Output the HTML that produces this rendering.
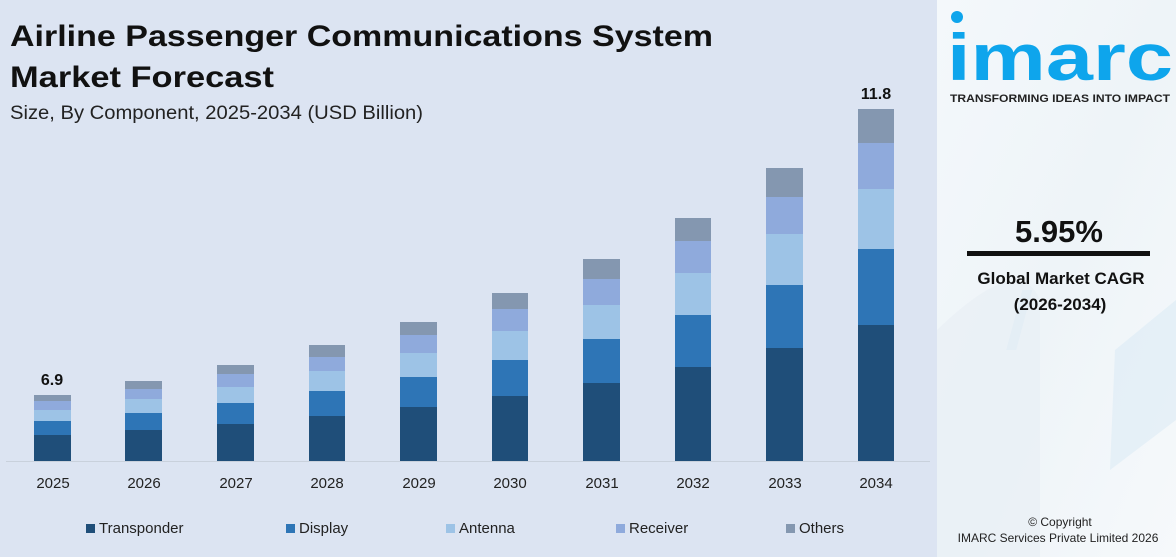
<!DOCTYPE html>
<html><head><meta charset="utf-8"><style>
html,body{margin:0;padding:0;width:1176px;height:557px;overflow:hidden;background:#dce4f2}
svg{display:block}
text{font-family:"Liberation Sans",sans-serif}
</style></head><body>
<svg width="1176" height="557" viewBox="0 0 1176 557" xmlns="http://www.w3.org/2000/svg">
<defs>
<linearGradient id="rg" x1="0" y1="0" x2="1" y2="1">
<stop offset="0" stop-color="#f4f8fb"/><stop offset="0.5" stop-color="#eef4f8"/><stop offset="1" stop-color="#f6f9fb"/>
</linearGradient>
</defs>
<rect x="0" y="0" width="937" height="557" fill="#dce4f2"/>
<rect x="937" y="0" width="239" height="557" fill="url(#rg)"/>
<g fill="#d6e8f3" opacity="0.8">
<rect x="1100" y="290" width="10" height="60" transform="skewX(-15)"/>
</g>
<path d="M1115 350 L1176 300 L1176 420 L1110 470 Z" fill="#dcebf5" opacity="0.6"/>
<path d="M937 330 Q1020 250 1040 300 L1040 557 L937 557 Z" fill="#e8eff5" opacity="0.7"/>
<!-- title -->
<text x="10" y="46" font-size="30" font-weight="bold" fill="#111" textLength="703" lengthAdjust="spacingAndGlyphs">Airline Passenger Communications System</text>
<text x="10" y="87" font-size="30" font-weight="bold" fill="#111" textLength="264" lengthAdjust="spacingAndGlyphs">Market Forecast</text>
<text x="10" y="119" font-size="19" fill="#222" textLength="413" lengthAdjust="spacingAndGlyphs">Size, By Component, 2025-2034 (USD Billion)</text>
<line x1="6" y1="461.5" x2="930" y2="461.5" stroke="#c9d1dc" stroke-width="1"/>
<g id="bars"></g>
<!-- bars: segments -->
<g>
<!-- 2025 -->
<rect x="34" y="395" width="37" height="6" fill="#8497b0"/><rect x="34" y="401" width="37" height="9" fill="#8faadc"/><rect x="34" y="410" width="37" height="11" fill="#9dc3e6"/><rect x="34" y="421" width="37" height="14" fill="#2e75b6"/><rect x="34" y="435" width="37" height="26" fill="#1f4e79"/>
<!-- 2026 -->
<rect x="125" y="381" width="37" height="8" fill="#8497b0"/><rect x="125" y="389" width="37" height="10" fill="#8faadc"/><rect x="125" y="399" width="37" height="14" fill="#9dc3e6"/><rect x="125" y="413" width="37" height="17" fill="#2e75b6"/><rect x="125" y="430" width="37" height="31" fill="#1f4e79"/>
<!-- 2027 -->
<rect x="217" y="365" width="37" height="9" fill="#8497b0"/><rect x="217" y="374" width="37" height="13" fill="#8faadc"/><rect x="217" y="387" width="37" height="16" fill="#9dc3e6"/><rect x="217" y="403" width="37" height="21" fill="#2e75b6"/><rect x="217" y="424" width="37" height="37" fill="#1f4e79"/>
<!-- 2028 -->
<rect x="309" y="345" width="36" height="12" fill="#8497b0"/><rect x="309" y="357" width="36" height="14" fill="#8faadc"/><rect x="309" y="371" width="36" height="20" fill="#9dc3e6"/><rect x="309" y="391" width="36" height="25" fill="#2e75b6"/><rect x="309" y="416" width="36" height="45" fill="#1f4e79"/>
<!-- 2029 -->
<rect x="400" y="322" width="37" height="13" fill="#8497b0"/><rect x="400" y="335" width="37" height="18" fill="#8faadc"/><rect x="400" y="353" width="37" height="24" fill="#9dc3e6"/><rect x="400" y="377" width="37" height="30" fill="#2e75b6"/><rect x="400" y="407" width="37" height="54" fill="#1f4e79"/>
<!-- 2030 -->
<rect x="492" y="293" width="36" height="16" fill="#8497b0"/><rect x="492" y="309" width="36" height="22" fill="#8faadc"/><rect x="492" y="331" width="36" height="29" fill="#9dc3e6"/><rect x="492" y="360" width="36" height="36" fill="#2e75b6"/><rect x="492" y="396" width="36" height="65" fill="#1f4e79"/>
<!-- 2031 -->
<rect x="583" y="259" width="37" height="20" fill="#8497b0"/><rect x="583" y="279" width="37" height="26" fill="#8faadc"/><rect x="583" y="305" width="37" height="34" fill="#9dc3e6"/><rect x="583" y="339" width="37" height="44" fill="#2e75b6"/><rect x="583" y="383" width="37" height="78" fill="#1f4e79"/>
<!-- 2032 -->
<rect x="675" y="218" width="36" height="23" fill="#8497b0"/><rect x="675" y="241" width="36" height="32" fill="#8faadc"/><rect x="675" y="273" width="36" height="42" fill="#9dc3e6"/><rect x="675" y="315" width="36" height="52" fill="#2e75b6"/><rect x="675" y="367" width="36" height="94" fill="#1f4e79"/>
<!-- 2033 -->
<rect x="766" y="168" width="37" height="29" fill="#8497b0"/><rect x="766" y="197" width="37" height="37" fill="#8faadc"/><rect x="766" y="234" width="37" height="51" fill="#9dc3e6"/><rect x="766" y="285" width="37" height="63" fill="#2e75b6"/><rect x="766" y="348" width="37" height="113" fill="#1f4e79"/>
<!-- 2034 -->
<rect x="858" y="109" width="36" height="34" fill="#8497b0"/><rect x="858" y="143" width="36" height="46" fill="#8faadc"/><rect x="858" y="189" width="36" height="60" fill="#9dc3e6"/><rect x="858" y="249" width="36" height="76" fill="#2e75b6"/><rect x="858" y="325" width="36" height="136" fill="#1f4e79"/>
</g>
<text x="52" y="385" font-size="16" font-weight="bold" text-anchor="middle" fill="#111">6.9</text>
<text x="876" y="99" font-size="16" font-weight="bold" text-anchor="middle" fill="#111">11.8</text>
<g font-size="15" fill="#222" text-anchor="middle">
<text x="53" y="488">2025</text><text x="144" y="488">2026</text><text x="236" y="488">2027</text><text x="327" y="488">2028</text><text x="419" y="488">2029</text><text x="510" y="488">2030</text><text x="602" y="488">2031</text><text x="693" y="488">2032</text><text x="785" y="488">2033</text><text x="876" y="488">2034</text>
</g>
<g font-size="15" fill="#222">
<rect x="86" y="524" width="9" height="9" fill="#1f4e79"/><text x="99" y="533">Transponder</text>
<rect x="286" y="524" width="9" height="9" fill="#2e75b6"/><text x="299" y="533">Display</text>
<rect x="446" y="524" width="9" height="9" fill="#9dc3e6"/><text x="459" y="533">Antenna</text>
<rect x="616" y="524" width="9" height="9" fill="#8faadc"/><text x="629" y="533">Receiver</text>
<rect x="786" y="524" width="9" height="9" fill="#8497b0"/><text x="799" y="533">Others</text>
</g>
<!-- right panel -->
<circle cx="957" cy="17" r="6" fill="#0ea5ec"/>
<text x="947" y="80" font-size="66" font-weight="bold" fill="#0ea5ec" textLength="226" lengthAdjust="spacingAndGlyphs">imarc</text>
<text x="950" y="102" font-size="11" font-weight="bold" fill="#222" textLength="220" lengthAdjust="spacingAndGlyphs">TRANSFORMING IDEAS INTO IMPACT</text>
<text x="1059" y="242" font-size="31" font-weight="bold" fill="#111" text-anchor="middle">5.95%</text>
<rect x="967" y="251" width="183" height="5" fill="#111"/>
<text x="1061" y="284" font-size="17" font-weight="bold" fill="#111" text-anchor="middle">Global Market CAGR</text>
<text x="1060" y="310" font-size="17" font-weight="bold" fill="#111" text-anchor="middle">(2026-2034)</text>
<text x="1060" y="526" font-size="12" fill="#222" text-anchor="middle">© Copyright</text>
<text x="1058" y="542" font-size="12" fill="#222" text-anchor="middle">IMARC Services Private Limited 2026</text>
</svg>
</body></html>
